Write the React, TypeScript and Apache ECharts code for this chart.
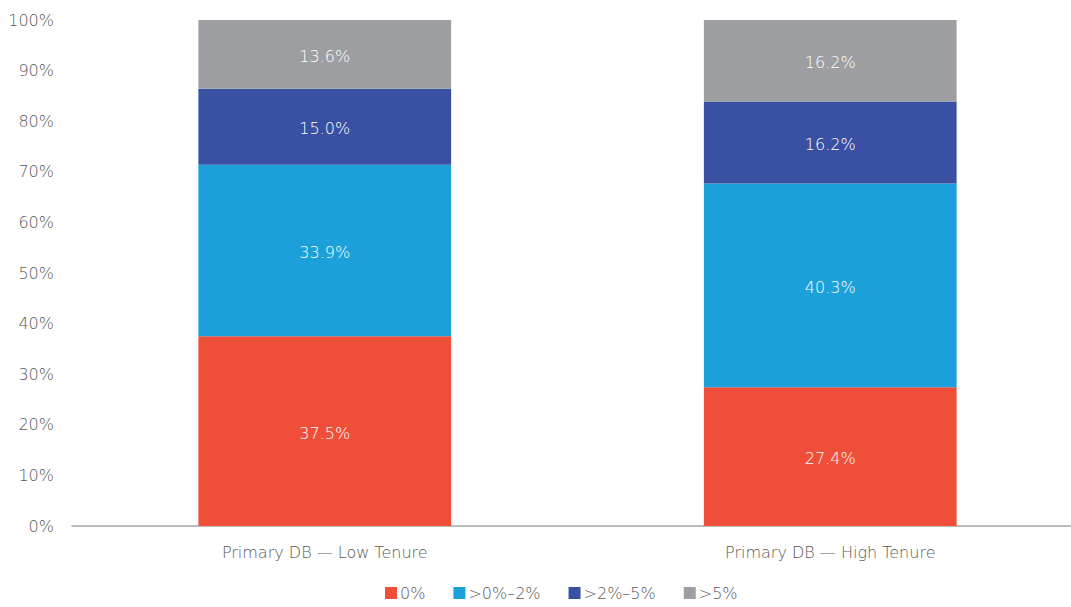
import React, { useEffect, useRef } from "react";
import * as echarts from "echarts";

const categories = ["Primary DB — Low Tenure", "Primary DB — High Tenure"];
const seriesNames = ["0%", ">0%–2%", ">2%–5%", ">5%"];
const zeroPct = [37.5, 27.4];
const upTo2 = [33.9, 40.3];
const from2to5 = [15.0, 16.2];
const over5 = [13.6, 16.2];
const colors = ["#EF4F38", "#1BA0DA", "#3A50A3", "#9D9EA2"];

const FONT = "'DejaVu Sans', sans-serif";

export default function App() {
  const ref = useRef<HTMLDivElement>(null);
  useEffect(() => {
    document.body.style.margin = "0";
    const chart = echarts.init(ref.current!, null, { renderer: "svg" });
    const data = [zeroPct, upTo2, from2to5, over5];
    chart.setOption({
      animation: false,
      textStyle: { fontFamily: FONT, fontWeight: 200 },
      legend: {
        bottom: 1,
        left: 380,
        itemWidth: 12,
        itemHeight: 12,
        itemGap: 28,
        icon: "rect",
        textStyle: { color: "#595959", fontSize: 16, fontFamily: FONT, fontWeight: 200, padding: [0, 0, 0, -2] },
        data: seriesNames,
      },
      grid: { left: 72, right: 2, top: 20, bottom: 81, containLabel: false },
      xAxis: {
        type: "category",
        data: categories,
        axisLine: { lineStyle: { color: "#A6A6A6", width: 1.5 } },
        axisTick: { show: false },
        axisLabel: { color: "#595959", fontSize: 16, margin: 18, fontFamily: FONT, fontWeight: 200 },
      },
      yAxis: {
        type: "value",
        min: 0,
        max: 100,
        interval: 10,
        splitLine: { show: false },
        axisLine: { show: false },
        axisTick: { show: false },
        axisLabel: {
          color: "#595959",
          fontSize: 16,
          margin: 18,
          fontFamily: FONT,
          fontWeight: 200,
          formatter: (v: number) => `${v}%`,
        },
      },
      series: seriesNames.map((name, i) => ({
        name,
        type: "bar",
        stack: "total",
        barWidth: "50%",
        data: data[i],
        itemStyle: { color: colors[i] },
        label: {
          show: true,
          position: "inside",
          color: "#FFFFFF",
          fontSize: 16,
          fontFamily: FONT,
          fontWeight: 200,
          offset: [0, 2],
          formatter: (p: any) => `${Number(p.value).toFixed(1)}%`,
        },
      })),
    });
    return () => chart.dispose();
  }, []);
  return (
    <div style={{ width: 1071, height: 607, overflow: "hidden", position: "relative" }}>
      <div ref={ref} style={{ width: 1085, height: 607 }} />
    </div>
  );
}
